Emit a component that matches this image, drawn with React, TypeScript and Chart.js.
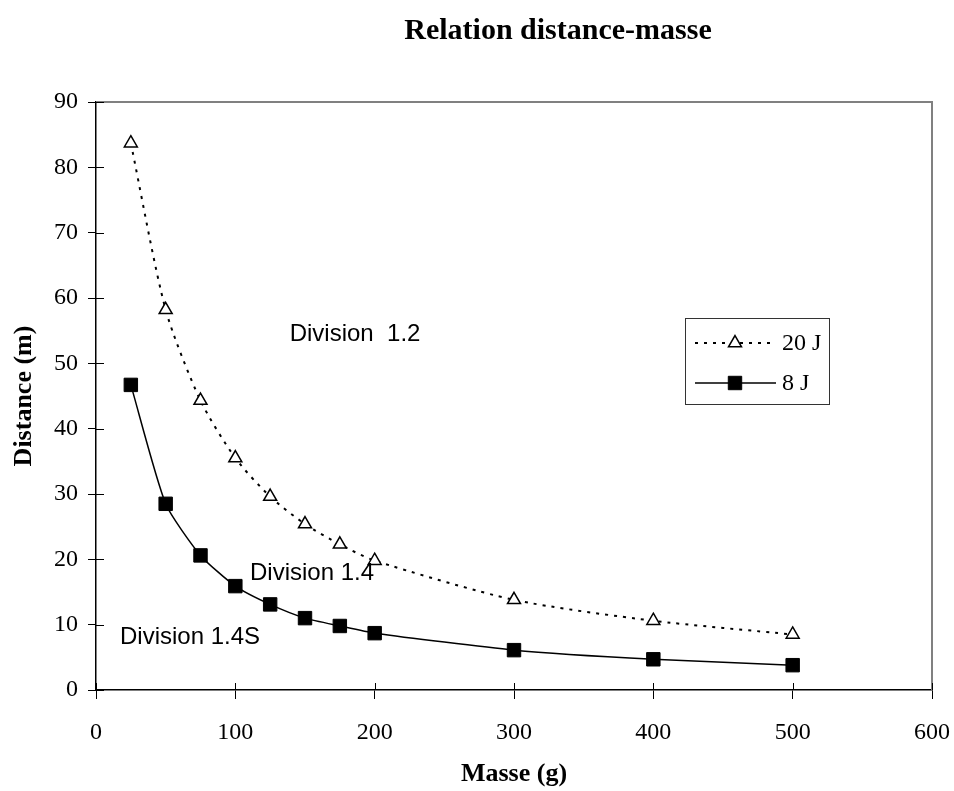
import React, { useEffect, useRef } from "react";
import { Chart, registerables } from "chart.js";

Chart.register(...registerables);

// ---- Data ----
const masses = [25, 50, 75, 100, 125, 150, 175, 200, 300, 400, 500];
const dist20J = [83.7, 58.2, 44.3, 35.5, 29.6, 25.4, 22.3, 19.8, 13.8, 10.6, 8.5];
const dist8J = [46.7, 28.5, 20.6, 15.9, 13.1, 11.0, 9.8, 8.7, 6.1, 4.7, 3.8];
const seriesLabels = ["20 J", "8 J"];
const chartTitle = "Relation distance-masse";
const xTitle = "Masse (g)";
const yTitle = "Distance (m)";
const xRange = [0, 600];
const xStep = 100;
const yRange = [0, 90];
const yStep = 10;
const noteTexts = ["Division  1.2", "Division 1.4", "Division 1.4S"];
const noteX = [139, 110.5, 17.2];
const noteY = [54.4, 17.9, 8.1];

const SERIF = '"Liberation Serif", "Times New Roman", serif';
const SANS = '"Liberation Sans", Arial, sans-serif';

function drawMarker(ctx: CanvasRenderingContext2D, style: string, x: number, y: number, r: number, fill: string, stroke: string, bw: number) {
  ctx.save();
  ctx.setLineDash([]);
  ctx.beginPath();
  if (style === "triangle") {
    let rad = 0;
    ctx.moveTo(x + Math.sin(rad) * r, y - Math.cos(rad) * r);
    rad += (2 * Math.PI) / 3;
    ctx.lineTo(x + Math.sin(rad) * r, y - Math.cos(rad) * r);
    rad += (2 * Math.PI) / 3;
    ctx.lineTo(x + Math.sin(rad) * r, y - Math.cos(rad) * r);
    ctx.closePath();
  } else {
    const s = Math.SQRT1_2 * r;
    ctx.rect(x - s, y - s, 2 * s, 2 * s);
  }
  ctx.fillStyle = fill;
  ctx.fill();
  ctx.lineWidth = bw;
  ctx.strokeStyle = stroke;
  ctx.stroke();
  ctx.restore();
}

const decorPlugin = {
  id: "decor",
  beforeDatasetsDraw(chart: any) {
    const { ctx, chartArea: ca, scales } = chart;
    const x = scales.x;
    const y = scales.y;
    ctx.save();
    // grey frame (top & right)
    ctx.strokeStyle = "#808080";
    ctx.lineWidth = 2;
    ctx.beginPath();
    ctx.moveTo(ca.left, ca.top);
    ctx.lineTo(ca.right, ca.top);
    ctx.lineTo(ca.right, ca.bottom);
    ctx.stroke();
    // inner tick parts
    ctx.strokeStyle = "#000";
    ctx.lineWidth = 1;
    ctx.beginPath();
    x.ticks.forEach((t: any) => {
      const px = Math.round(x.getPixelForValue(t.value)) + 0.5;
      ctx.moveTo(px, ca.bottom);
      ctx.lineTo(px, ca.bottom - 7);
    });
    y.ticks.forEach((t: any) => {
      const py = Math.round(y.getPixelForValue(t.value)) + 0.5;
      ctx.moveTo(ca.left, py);
      ctx.lineTo(ca.left + 8, py);
    });
    ctx.stroke();
    ctx.restore();
  },
  afterDraw(chart: any) {
    const { ctx, scales } = chart;
    const x = scales.x;
    const y = scales.y;
    ctx.save();
    // title
    ctx.fillStyle = "#000";
    ctx.font = `bold 30px ${SERIF}`;
    ctx.textAlign = "center";
    ctx.textBaseline = "middle";
    ctx.fillText(chartTitle, 558, 31);
    // annotations
    ctx.font = `24px ${SANS}`;
    ctx.textAlign = "left";
    noteTexts.forEach((t, i) => {
      ctx.fillText(t, x.getPixelForValue(noteX[i]), y.getPixelForValue(noteY[i]));
    });
    // legend
    const bx = 685.5, by = 318.5, bw = 144, bh = 86;
    ctx.strokeStyle = "#333";
    ctx.lineWidth = 1;
    ctx.strokeRect(bx, by, bw, bh);
    chart.data.datasets.forEach((ds: any, i: number) => {
      const ry = 343 + i * 40;
      ctx.save();
      ctx.strokeStyle = ds.borderColor;
      ctx.lineWidth = ds.borderWidth;
      ctx.setLineDash(ds.borderDash || []);
      ctx.beginPath();
      ctx.moveTo(695, ry);
      ctx.lineTo(776, ry);
      ctx.stroke();
      ctx.restore();
      drawMarker(ctx, ds.pointStyle, 735, ry, ds.pointRadius, ds.pointBackgroundColor, ds.pointBorderColor, ds.pointBorderWidth);
      ctx.fillStyle = "#000";
      ctx.font = `24px ${SERIF}`;
      ctx.textAlign = "left";
      ctx.textBaseline = "middle";
      ctx.fillText(ds.label, 782, ry + 1);
    });
    ctx.restore();
  },
};

export default function App() {
  const ref = useRef<HTMLCanvasElement | null>(null);
  useEffect(() => {
    if (!ref.current) return;
    Chart.defaults.font.family = SERIF;
    Chart.defaults.color = "#000";
    const chart = new Chart(ref.current, {
      type: "line",
      data: {
        datasets: [
          {
            label: seriesLabels[0],
            data: masses.map((m, i) => ({ x: m, y: dist20J[i] })),
            borderColor: "#000",
            borderWidth: 2,
            borderDash: [3, 6],
            tension: 0.25,
            pointStyle: "triangle",
            pointRadius: 7.5,
            pointBackgroundColor: "#fff",
            pointBorderColor: "#000",
            pointBorderWidth: 1.5,
            fill: false,
          } as any,
          {
            label: seriesLabels[1],
            data: masses.map((m, i) => ({ x: m, y: dist8J[i] })),
            borderColor: "#000",
            borderWidth: 1.5,
            borderDash: [],
            tension: 0.2,
            pointStyle: "rect",
            pointRadius: 9.5,
            pointBackgroundColor: "#000",
            pointBorderColor: "#000",
            pointBorderWidth: 1,
            fill: false,
          } as any,
        ],
      },
      options: {
        animation: false,
        responsive: true,
        maintainAspectRatio: false,
        layout: { padding: { left: 0, top: 102, right: 22, bottom: 0 } },
        plugins: { legend: { display: false }, title: { display: false }, tooltip: { enabled: false } },
        scales: {
          x: {
            type: "linear",
            min: xRange[0],
            max: xRange[1],
            afterFit: (s: any) => { s.height = 101; s.paddingLeft = 0; s.paddingRight = 0; },
            ticks: { stepSize: xStep, font: { size: 24, family: SERIF }, color: "#000", padding: 19 },
            grid: { drawOnChartArea: false, tickLength: 9, color: "#000", lineWidth: 1 },
            border: { color: "#000", width: 1.5 },
            title: { display: true, text: xTitle, font: { size: 26, weight: "bold", family: SERIF }, color: "#000", padding: { top: 0, bottom: 1 } },
          },
          y: {
            type: "linear",
            min: yRange[0],
            max: yRange[1],
            afterFit: (s: any) => { s.width = 96; s.paddingTop = 0; s.paddingBottom = 0; },
            ticks: { stepSize: yStep, font: { size: 24, family: SERIF }, color: "#000", padding: 10 },
            grid: { drawOnChartArea: false, tickLength: 8, color: "#000", lineWidth: 1 },
            border: { color: "#000", width: 1.5 },
            title: { display: true, text: yTitle, font: { size: 26, weight: "bold", family: SERIF }, color: "#000", padding: { top: 9, bottom: 0 } },
          },
        },
      },
      plugins: [decorPlugin],
    });
    return () => chart.destroy();
  }, []);
  return (
    <div style={{ position: "fixed", left: 0, top: 0, width: 954, height: 791, background: "#fff" }}>
      <canvas ref={ref} />
    </div>
  );
}
